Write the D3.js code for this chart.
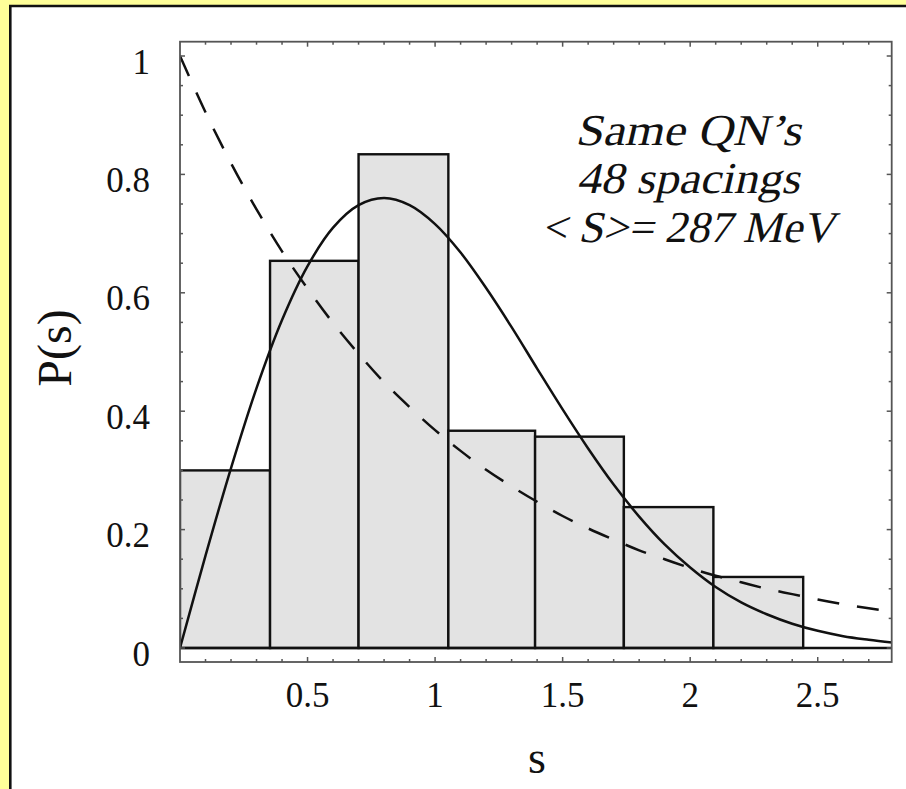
<!DOCTYPE html>
<html>
<head>
<meta charset="utf-8">
<script src="https://cdn.jsdelivr.net/npm/d3@7"></script>
<style>
  body { margin: 0; background: #ffff99; }
  svg { display: block; }
  text { font-family: "Liberation Serif", "Times New Roman", serif; fill: #111; }
</style>
</head>
<body>
<svg width="906" height="789"></svg>
<script>
// Histogram: bin edges (in units of mean spacing) and normalised heights.
const binEdges = [0, 0.353, 0.70, 1.052, 1.392, 1.74, 2.091, 2.443];
const binHeights = [0.30, 0.654, 0.834, 0.367, 0.357, 0.238, 0.12];

const curveS = [0, 0.1, 0.2, 0.3, 0.4, 0.5, 0.6, 0.7, 0.8, 0.9, 1.0, 1.1, 1.2, 1.3, 1.4,
                1.5, 1.6, 1.7, 1.8, 1.9, 2.0, 2.1, 2.2, 2.3, 2.4, 2.5, 2.6, 2.7, 2.8];
const wignerP = [0, 0.156, 0.304, 0.439, 0.554, 0.645, 0.710, 0.748, 0.760, 0.748, 0.716,
                 0.668, 0.608, 0.542, 0.472, 0.403, 0.337, 0.276, 0.222, 0.175, 0.136,
                 0.103, 0.077, 0.057, 0.041, 0.029, 0.020, 0.014, 0.009];
const poissonP = [1, 0.905, 0.819, 0.741, 0.670, 0.607, 0.549, 0.497, 0.449, 0.407, 0.368,
                  0.333, 0.301, 0.273, 0.247, 0.223, 0.202, 0.183, 0.165, 0.150, 0.135,
                  0.122, 0.111, 0.100, 0.091, 0.082, 0.074, 0.067, 0.061];

// Tick labels.
const xTickValues = [0.5, 1, 1.5, 2, 2.5];
const xTickLabels = ["0.5", "1", "1.5", "2", "2.5"];
const yTickValues = [0, 0.2, 0.4, 0.6, 0.8, 1];
const yTickLabels = ["0", "0.2", "0.4", "0.6", "0.8", "1"];

// Annotation lines and their measured widths.
const noteLines = ["Same QN\u2019s", "48 spacings", "< S>= 287 MeV"];
const noteWidths = [226, 223, 293];

const svg = d3.select("svg");
const W = 906, H = 789;

// Page frame: yellow margin, white panel with black left/top edge.
svg.append("rect").attr("width", W).attr("height", H).attr("fill", "#ffff99");
svg.append("rect").attr("x", 10).attr("y", 6).attr("width", W - 10).attr("height", H - 6).attr("fill", "#fff");
svg.append("line").attr("x1", 10.3).attr("x2", 10.3).attr("y1", 5).attr("y2", H)
    .attr("stroke", "#111").attr("stroke-width", 2.6);
svg.append("line").attr("x1", 9).attr("x2", W).attr("y1", 6).attr("y2", 6)
    .attr("stroke", "#111").attr("stroke-width", 2.4);

// Plot frame.
const fLeft = 180, fRight = 891.7, fTop = 41.7, fBottom = 662;
const x = d3.scaleLinear().domain([0, 2.79]).range([fLeft, fRight]);
const y = d3.scaleLinear().domain([0, 1]).range([648, 56]);

svg.append("clipPath").attr("id", "plot")
  .append("rect").attr("x", fLeft).attr("y", fTop).attr("width", fRight - fLeft).attr("height", fBottom - fTop);

const plot = svg.append("g").attr("clip-path", "url(#plot)");

// Bars.
plot.selectAll("rect.bar")
  .data(binHeights)
  .enter()
  .append("rect")
  .attr("class", "bar")
  .attr("x", (d, i) => x(binEdges[i]))
  .attr("width", (d, i) => x(binEdges[i + 1]) - x(binEdges[i]))
  .attr("y", d => y(d))
  .attr("height", d => y(0) - y(d))
  .attr("fill", "#e3e3e3")
  .attr("stroke", "#111")
  .attr("stroke-width", 2.4);

// Zero line.
plot.append("line")
  .attr("x1", fLeft).attr("x2", fRight).attr("y1", y(0)).attr("y2", y(0))
  .attr("stroke", "#111").attr("stroke-width", 2.4);

const line = d3.line()
  .x(d => x(d[0]))
  .y(d => y(d[1]))
  .curve(d3.curveCatmullRom);

plot.append("path")
  .datum(curveS.map((s, i) => [s, poissonP[i]]))
  .attr("d", line)
  .attr("fill", "none")
  .attr("stroke", "#111")
  .attr("stroke-width", 2.5)
  .attr("stroke-dasharray", "22,18");

plot.append("path")
  .datum(curveS.map((s, i) => [s, wignerP[i]]))
  .attr("d", line)
  .attr("fill", "none")
  .attr("stroke", "#111")
  .attr("stroke-width", 2.5);

// Frame and inward ticks on all four sides.
const frameColor = "#555";
svg.append("rect")
  .attr("x", fLeft).attr("y", fTop).attr("width", fRight - fLeft).attr("height", fBottom - fTop)
  .attr("fill", "none").attr("stroke", frameColor).attr("stroke-width", 1.8);

const xTicks = d3.range(1, 28).map(i => i / 10);
const yTicks = d3.range(1, 21).map(i => i / 20);
const ticks = svg.append("g").attr("stroke", frameColor).attr("stroke-width", 1.5);

xTicks.forEach(t => {
  const major = Math.abs(t * 2 - Math.round(t * 2)) < 1e-6;
  const len = major ? 5 : 3;
  ticks.append("line").attr("x1", x(t)).attr("x2", x(t)).attr("y1", fBottom).attr("y2", fBottom - len);
  ticks.append("line").attr("x1", x(t)).attr("x2", x(t)).attr("y1", fTop).attr("y2", fTop + len);
});
[0].concat(yTicks).forEach(t => {
  const major = Math.abs(t * 5 - Math.round(t * 5)) < 1e-6;
  const len = major ? 5 : 3;
  ticks.append("line").attr("x1", fLeft).attr("x2", fLeft + len).attr("y1", y(t)).attr("y2", y(t));
  ticks.append("line").attr("x1", fRight).attr("x2", fRight - len).attr("y1", y(t)).attr("y2", y(t));
});

// Tick labels.
svg.selectAll("text.xt")
  .data(xTickValues)
  .enter()
  .append("text")
  .attr("class", "xt")
  .attr("x", d => x(d))
  .attr("y", 707)
  .attr("text-anchor", "middle")
  .attr("font-size", 35)
  .text((d, i) => xTickLabels[i]);

svg.selectAll("text.yt")
  .data(yTickValues)
  .enter()
  .append("text")
  .attr("class", "yt")
  .attr("x", 150)
  .attr("y", d => y(d) + 17.5)
  .attr("text-anchor", "end")
  .attr("font-size", 35)
  .text((d, i) => yTickLabels[i]);

// Axis titles.
svg.append("text")
  .attr("x", 537).attr("y", 773)
  .attr("text-anchor", "middle")
  .attr("font-size", 46)
  .text("s");

svg.append("text")
  .attr("transform", "translate(71,348) rotate(-90)")
  .attr("text-anchor", "middle")
  .attr("font-size", 48)
  .text("P(s)");

// Annotation: upright serif glyphs slanted by hand, so the serif face is kept.
svg.selectAll("text.note")
  .data(noteLines)
  .enter()
  .append("text")
  .attr("class", "note")
  .attr("transform", (d, i) => `translate(688,${145 + i * 48.4}) skewX(-13)`)
  .attr("text-anchor", "middle")
  .attr("font-size", 44)
  .attr("textLength", (d, i) => noteWidths[i])
  .attr("lengthAdjust", "spacingAndGlyphs")
  .text(d => d);
</script>
</body>
</html>
